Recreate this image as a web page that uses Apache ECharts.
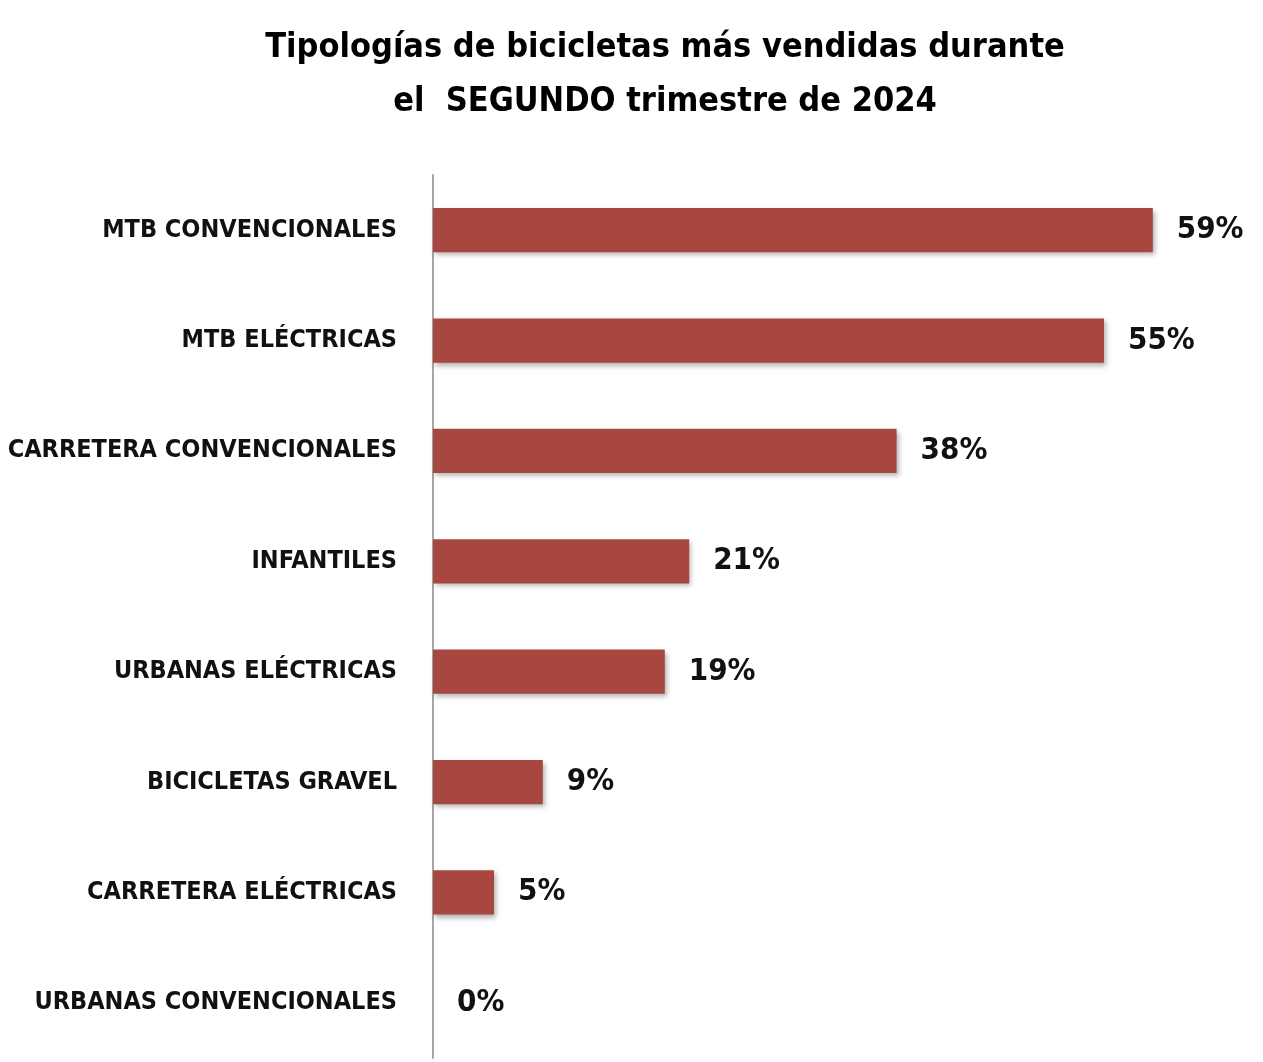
<!DOCTYPE html>
<html>
<head>
<meta charset="utf-8">
<script src="https://cdn.jsdelivr.net/npm/echarts@6/dist/echarts.min.js"></script>
<style>html,body{margin:0;padding:0;background:#fff;}#c{width:1263px;height:1062px;}</style>
</head>
<body>
<div id="c"></div>
<script>
const categories = ["MTB CONVENCIONALES","MTB ELÉCTRICAS","CARRETERA CONVENCIONALES","INFANTILES","URBANAS ELÉCTRICAS","BICICLETAS GRAVEL","CARRETERA ELÉCTRICAS","URBANAS CONVENCIONALES"];
const values = [59,55,38,21,19,9,5,0];
const titleText = "Tipologías de bicicletas más vendidas durante\nel  SEGUNDO trimestre de 2024";
const FONT = "'Liberation Sans Narrow','DejaVu Sans Condensed','Arial Narrow',sans-serif";
const chart = echarts.init(document.getElementById('c'));
chart.setOption({
  backgroundColor:'#fff',
  animation:false,
  title:{
    text:titleText, left:660, top:16, textAlign:'center',
    textStyle:{fontFamily:FONT, fontWeight:'bold', fontSize:34, lineHeight:54, color:'#000'}
  },
  grid:{left:433, right:37, top:175, bottom:4, containLabel:false, outerBoundsMode:'none'},
  xAxis:{type:'value', min:0, max:65, show:false},
  yAxis:{type:'category', data:categories, inverse:true,
    axisLine:{show:true, lineStyle:{color:'#a6a6a6', width:2}},
    axisTick:{show:false},
    axisLabel:{fontFamily:FONT, fontWeight:'bold', fontSize:25, color:'#111', margin:36, padding:[3,0,0,0]}
  },
  series:[{
    type:'bar', data:values, barWidth:'40%',
    itemStyle:{color:'#a8473f', shadowColor:'rgba(0,0,0,0.3)', shadowBlur:5, shadowOffsetX:2, shadowOffsetY:3},
    label:{show:true, position:'right', distance:24, formatter:'{c}%', padding:[4,0,0,0],
      fontFamily:FONT, fontWeight:'bold', fontSize:31, color:'#111'}
  }]
});
</script>
</body>
</html>
